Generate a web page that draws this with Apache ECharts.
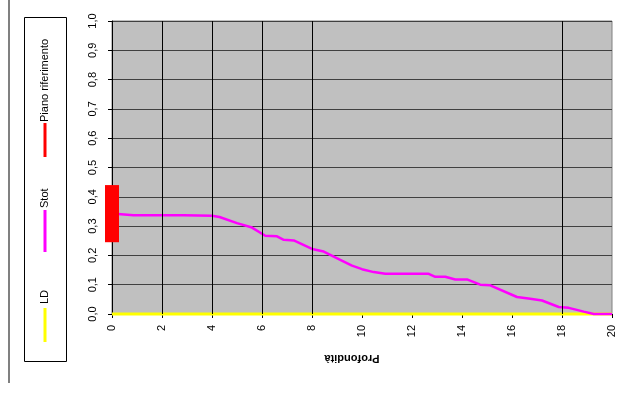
<!DOCTYPE html>
<html>
<head>
<meta charset="utf-8">
<script src="https://cdn.jsdelivr.net/npm/echarts@6/dist/echarts.min.js"></script>
<style>
html,body{margin:0;padding:0;background:#fff;}
#c{width:636px;height:394px;}
</style>
</head>
<body>
<div id="c"></div>
<script>
// ---- data ----
const stotDepth = [0, 0.24, 0.86, 2.87, 4.0, 4.3, 5.0, 5.6, 6.13, 6.6, 6.87, 7.27, 8.0, 8.47, 9.13, 9.6, 10.0, 10.47, 10.93, 12.67, 12.93, 13.33, 13.73, 14.2, 14.73, 15.13, 16.2, 16.73, 17.2, 17.87, 18.27, 18.87, 19.27, 20];
const stotValue = [0.341, 0.341, 0.337, 0.337, 0.335, 0.331, 0.310, 0.295, 0.267, 0.265, 0.253, 0.251, 0.222, 0.213, 0.185, 0.165, 0.153, 0.143, 0.137, 0.137, 0.127, 0.127, 0.118, 0.118, 0.100, 0.098, 0.058, 0.052, 0.046, 0.024, 0.021, 0.008, 0.0, 0.0];
const ldDepth = [0, 20];
const ldValue = [0, 0];
const pianoDepth = [0, 0];
const pianoValue = [0.245, 0.44];
const vGridAt = [2, 4, 6, 8, 18];
const legendNames = ['LD', 'Stot', 'Piano riferimento'];
const xTitle = 'Profondità';

const zip = (a, b) => a.map((v, i) => [v, b[i]]);
const FONT = 'Liberation Sans';

const chart = echarts.init(document.getElementById('c'), null, {renderer: 'canvas'});
chart.setOption({
  animation: false,
  grid: {left: 112, right: 24, top: 21, bottom: 80, show: true, backgroundColor: '#c0c0c0', borderColor: '#808080', borderWidth: 1},
  xAxis: {
    type: 'value', min: 0, max: 20, interval: 2,
    splitLine: {show: false},
    axisLine: {lineStyle: {color: '#000'}},
    axisTick: {show: true, length: 4, lineStyle: {color: '#000'}},
    axisLabel: {rotate: 90, margin: 11, color: '#000', fontFamily: FONT, fontSize: 11}
  },
  yAxis: {
    type: 'value', min: 0, max: 1, interval: 0.1,
    splitLine: {show: true, lineStyle: {color: '#404040', width: 1}},
    axisLine: {show: true, lineStyle: {color: '#000'}},
    axisTick: {show: true, length: 4, lineStyle: {color: '#000'}},
    axisLabel: {rotate: 90, margin: 14, color: '#000', fontFamily: FONT, fontSize: 11,
      formatter: v => v.toFixed(1).replace('.', ',')}
  },
  series: [
    {name: legendNames[0], type: 'line', data: zip(ldDepth, ldValue), symbol: 'none', clip: false,
     lineStyle: {color: '#ffff00', width: 3}, z: 3,
     markLine: {silent: true, symbol: 'none', label: {show: false}, animation: false,
       lineStyle: {color: '#000', width: 1, type: 'solid'},
       data: vGridAt.map(v => ({xAxis: v}))}},
    {name: legendNames[1], type: 'line', data: zip(stotDepth, stotValue), symbol: 'none', clip: false,
     lineStyle: {color: '#ff00ff', width: 2.5}, z: 4},
    {name: legendNames[2], type: 'line', data: zip(pianoDepth, pianoValue), symbol: 'none', clip: false,
     lineStyle: {color: '#ff0000', width: 14, cap: 'butt'}, z: 5}
  ],
  graphic: [
    {type: 'line', shape: {x1: 9, y1: 0, x2: 9, y2: 383}, style: {stroke: '#808080', lineWidth: 2}},
    {type: 'rect', shape: {x: 24.5, y: 17.5, width: 42, height: 344}, style: {fill: '#fff', stroke: '#000', lineWidth: 1}},
    {type: 'line', shape: {x1: 45, y1: 308, x2: 45, y2: 342}, style: {stroke: '#ffff00', lineWidth: 3}},
    {type: 'line', shape: {x1: 45, y1: 210, x2: 45, y2: 252}, style: {stroke: '#ff00ff', lineWidth: 3}},
    {type: 'line', shape: {x1: 45, y1: 123, x2: 45, y2: 157}, style: {stroke: '#ff0000', lineWidth: 3}},
    {type: 'text', x: 45, y: 304, rotation: Math.PI / 2,
     style: {text: legendNames[0], font: '11px "Liberation Sans"', fill: '#000', align: 'left', verticalAlign: 'middle'}},
    {type: 'text', x: 45, y: 208, rotation: Math.PI / 2,
     style: {text: legendNames[1], font: '11px "Liberation Sans"', fill: '#000', align: 'left', verticalAlign: 'middle'}},
    {type: 'text', x: 45, y: 122, rotation: Math.PI / 2,
     style: {text: legendNames[2], font: '11px "Liberation Sans"', fill: '#000', align: 'left', verticalAlign: 'middle'}},
    {type: 'text', x: 352, y: 358, rotation: Math.PI,
     style: {text: xTitle, font: 'bold 11px "Liberation Sans"', fill: '#000', align: 'center', verticalAlign: 'middle'}}
  ]
});
</script>
</body>
</html>
